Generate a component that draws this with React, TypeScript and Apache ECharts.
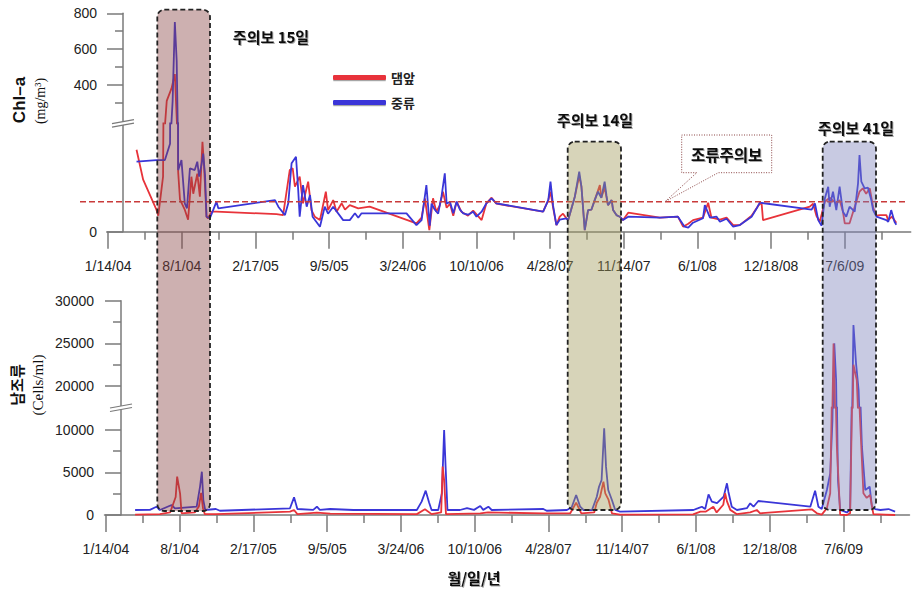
import React, { useEffect, useRef } from 'react';
import * as echarts from 'echarts';

// ---------------- DATA ----------------
const seriesNames = ['댐앞', '중류'];

// Chl-a (mg/m3), 댐앞
const chlDam: [string, number][] = [
  ['2004-03-31', 41], ['2004-04-18', 26], ['2004-05-24', 11], ['2004-05-29', 8], ['2004-06-11', 27.5],
  ['2004-06-21', 310], ['2004-07-04', 380], ['2004-07-13', 460], ['2004-07-22', 30], ['2004-07-27', 16],
  ['2004-08-09', 11], ['2004-08-18', 6], ['2004-08-27', 27.5], ['2004-09-01', 19], ['2004-09-12', 29],
  ['2004-09-19', 17.5], ['2004-09-26', 45], ['2004-09-30', 34], ['2004-10-07', 7.5], ['2004-10-11', 6.7],
  ['2004-10-21', 10], ['2004-11-03', 10], ['2005-04-15', 8.8], ['2005-05-03', 8.3], ['2005-05-21', 30.8],
  ['2005-05-29', 31.7], ['2005-06-04', 22.5], ['2005-06-17', 27.5], ['2005-06-26', 14.2], ['2005-07-10', 25],
  ['2005-07-19', 10.8], ['2005-07-28', 7.5], ['2005-08-11', 5.8], ['2005-08-27', 20], ['2005-09-02', 10.8],
  ['2005-09-16', 15.8], ['2005-09-25', 10], ['2005-10-09', 14.2], ['2005-10-18', 11], ['2005-10-31', 13.3],
  ['2005-11-23', 11.7], ['2005-12-24', 12.5], ['2006-04-30', 4.2], ['2006-05-14', 7], ['2006-05-23', 16.7],
  ['2006-06-04', 0.8], ['2006-06-14', 16.7], ['2006-06-23', 10], ['2006-07-02', 13], ['2006-07-11', 20],
  ['2006-07-21', 12], ['2006-07-30', 14], ['2006-08-08', 8], ['2006-08-17', 15], ['2006-08-30', 10],
  ['2006-09-17', 8], ['2006-10-01', 10.5], ['2006-10-24', 5.8], ['2006-11-06', 14.2], ['2006-11-20', 17],
  ['2006-12-03', 14], ['2007-04-09', 10], ['2007-04-23', 15.8], ['2007-04-29', 20], ['2007-05-06', 12],
  ['2007-05-15', 3.3], ['2007-05-24', 7.5], ['2007-06-02', 9], ['2007-06-11', 6.7], ['2007-06-16', 5.8],
  ['2007-07-04', 17.5], ['2007-07-16', 28], ['2007-07-22', 22.5], ['2007-07-31', 0.8], ['2007-08-09', 10.8],
  ['2007-08-18', 11], ['2007-08-27', 15.8], ['2007-09-10', 23.3], ['2007-09-14', 17], ['2007-09-23', 22],
  ['2007-10-02', 13.3], ['2007-10-12', 15.8], ['2007-10-16', 10.8], ['2007-10-25', 8.3], ['2007-11-03', 7.5],
  ['2007-11-12', 5.8], ['2007-11-26', 9.5], ['2008-02-20', 7], ['2008-04-09', 7.5], ['2008-04-23', 2.5],
  ['2008-05-07', 4], ['2008-05-20', 5.8], ['2008-06-16', 7], ['2008-06-30', 14.5], ['2008-07-09', 7],
  ['2008-08-01', 6], ['2008-08-19', 7], ['2008-09-06', 3.3], ['2008-09-24', 3.3], ['2008-10-26', 8],
  ['2008-11-13', 13], ['2008-11-22', 14.5], ['2008-11-26', 5.8], ['2009-04-02', 12.5], ['2009-04-11', 14],
  ['2009-04-20', 8], ['2009-04-29', 5], ['2009-05-13', 15], ['2009-05-26', 17], ['2009-06-13', 14],
  ['2009-06-22', 15.8], ['2009-07-01', 10], ['2009-07-06', 4.2], ['2009-07-19', 4.2], ['2009-08-02', 12.5],
  ['2009-08-15', 20], ['2009-08-24', 21.7], ['2009-09-02', 19], ['2009-09-12', 21.7], ['2009-09-21', 12],
  ['2009-09-30', 8], ['2009-10-09', 8.3], ['2009-10-27', 8.3], ['2009-11-01', 5.8], ['2009-11-11', 7.5],
  ['2009-11-23', 4.5],
];

// Chl-a (mg/m3), 중류
const chlMid: [string, number][] = [
  ['2004-03-31', 35], ['2004-05-24', 35.8], ['2004-06-16', 35.8], ['2004-06-30', 44], ['2004-07-07', 310],
  ['2004-07-13', 751], ['2004-07-18', 535], ['2004-07-22', 30.8], ['2004-07-31', 35.8], ['2004-08-09', 14.2],
  ['2004-08-15', 11.7], ['2004-08-23', 31.7], ['2004-09-05', 30.8], ['2004-09-12', 35], ['2004-09-17', 27.5],
  ['2004-09-24', 34.2], ['2004-09-28', 39], ['2004-10-03', 28.3], ['2004-10-07', 7.5], ['2004-10-16', 6.7],
  ['2004-10-25', 10.8], ['2004-11-03', 15], ['2004-11-08', 11.7], ['2005-04-11', 15.8], ['2005-04-20', 12.5],
  ['2005-05-08', 8.3], ['2005-05-17', 14.2], ['2005-05-26', 34.2], ['2005-06-07', 37.5], ['2005-06-13', 20.8],
  ['2005-06-17', 7.5], ['2005-06-26', 23.3], ['2005-07-06', 12.5], ['2005-07-15', 18.3], ['2005-07-22', 7.5],
  ['2005-08-11', 2.5], ['2005-08-24', 12.5], ['2005-09-02', 9], ['2005-09-16', 12.5], ['2005-10-13', 5.8],
  ['2005-10-31', 5.8], ['2005-11-14', 9.2], ['2005-11-23', 7], ['2005-12-02', 9.2], ['2006-04-03', 9.2],
  ['2006-04-30', 3.3], ['2006-05-14', 5.8], ['2006-05-27', 23.3], ['2006-06-05', 3], ['2006-06-10', 14],
  ['2006-06-19', 11], ['2006-06-28', 9], ['2006-07-07', 17.5], ['2006-07-16', 29.2], ['2006-07-21', 14],
  ['2006-07-30', 15], ['2006-08-08', 9.2], ['2006-08-17', 15], ['2006-08-26', 11], ['2006-09-04', 9.2],
  ['2006-09-17', 8.5], ['2006-10-01', 10], ['2006-10-10', 7.5], ['2006-10-24', 10], ['2006-11-06', 14.2],
  ['2006-11-20', 16.7], ['2006-12-03', 14.2], ['2007-04-09', 10], ['2007-04-23', 15.8], ['2007-04-29', 25],
  ['2007-05-06', 13], ['2007-05-15', 3.3], ['2007-05-24', 6], ['2007-06-11', 6.7], ['2007-06-16', 5.8],
  ['2007-07-04', 17.5], ['2007-07-16', 30], ['2007-07-22', 22.5], ['2007-07-31', 0.8], ['2007-08-09', 10.8],
  ['2007-08-18', 11], ['2007-08-27', 15.8], ['2007-09-05', 20], ['2007-09-14', 17], ['2007-09-23', 25],
  ['2007-09-28', 18], ['2007-10-02', 13.3], ['2007-10-12', 15.8], ['2007-10-16', 10.8], ['2007-10-25', 8.3],
  ['2007-11-03', 7.5], ['2007-11-12', 5.8], ['2007-11-26', 7.5], ['2008-02-20', 7], ['2008-04-09', 7.5],
  ['2008-04-18', 5], ['2008-04-27', 2.5], ['2008-05-07', 2], ['2008-05-20', 4.5], ['2008-06-16', 6.7],
  ['2008-06-21', 13.3], ['2008-07-05', 7], ['2008-07-23', 7.5], ['2008-08-01', 5], ['2008-08-19', 6.5],
  ['2008-09-06', 2.5], ['2008-09-24', 3.3], ['2008-10-26', 7.5], ['2008-11-09', 11.7], ['2008-11-17', 14.5],
  ['2009-04-07', 11], ['2009-04-16', 14.2], ['2009-04-25', 5.8], ['2009-05-04', 3], ['2009-05-13', 16.7],
  ['2009-05-22', 22.5], ['2009-05-26', 12.5], ['2009-06-04', 20], ['2009-06-13', 10.8], ['2009-06-22', 22.5],
  ['2009-07-01', 10], ['2009-07-10', 7.5], ['2009-07-19', 12.5], ['2009-08-02', 10], ['2009-08-11', 24.2],
  ['2009-08-15', 38.3], ['2009-08-20', 25], ['2009-08-29', 21.7], ['2009-09-07', 22], ['2009-09-16', 15.8],
  ['2009-09-21', 10.8], ['2009-09-30', 7.5], ['2009-10-27', 5.8], ['2009-11-01', 5], ['2009-11-09', 10.8],
  ['2009-11-18', 5], ['2009-11-23', 3.5],
];

// 남조류 (cells/ml), 댐앞
const cyanoDam: [string, number][] = [
  ['2004-04-02', 50], ['2004-06-08', 100], ['2004-07-06', 300], ['2004-07-21', 2100], ['2004-07-25', 4490],
  ['2004-08-02', 2500], ['2004-08-06', 200], ['2004-09-11', 300], ['2004-09-22', 1000], ['2004-09-28', 2600],
  ['2004-10-03', 800], ['2004-10-08', 100], ['2004-11-07', 100], ['2005-05-27', 390], ['2005-06-07', 585],
  ['2005-06-16', 100], ['2005-08-08', 270], ['2005-09-13', 150], ['2006-05-06', 100], ['2006-05-28', 670],
  ['2006-06-15', 100], ['2006-07-11', 300], ['2006-07-15', 5660], ['2006-07-19', 4100], ['2006-07-24', 100],
  ['2006-10-25', 200], ['2006-11-15', 300], ['2007-04-14', 200], ['2007-06-26', 200], ['2007-07-12', 1440],
  ['2007-07-26', 200], ['2007-08-30', 300], ['2007-09-06', 1440], ['2007-09-15', 2140], ['2007-09-24', 3900],
  ['2007-09-29', 2540], ['2007-10-08', 1760], ['2007-10-17', 200], ['2007-11-08', 50], ['2008-05-24', 80],
  ['2008-06-13', 390], ['2008-06-28', 400], ['2008-07-18', 970], ['2008-07-27', 300], ['2008-08-14', 1200],
  ['2008-08-19', 2540], ['2008-08-24', 1600], ['2008-09-02', 600], ['2008-09-20', 100], ['2008-10-26', 300],
  ['2008-11-13', 585], ['2008-11-22', 200], ['2009-04-11', 670], ['2009-04-25', 200], ['2009-05-08', 50],
  ['2009-05-22', 800], ['2009-05-31', 2540], ['2009-06-09', 25000], ['2009-06-18', 8000], ['2009-06-27', 50],
  ['2009-07-15', 0], ['2009-07-24', 200], ['2009-08-02', 22500], ['2009-08-11', 20700], ['2009-08-20', 11100],
  ['2009-08-29', 2540], ['2009-09-07', 2000], ['2009-09-16', 2340], ['2009-09-25', 100], ['2009-10-27', 50],
  ['2009-11-23', 0],
];

// 남조류 (cells/ml), 중류
const cyanoMid: [string, number][] = [
  ['2004-04-02', 585], ['2004-05-12', 600], ['2004-05-30', 970], ['2004-06-08', 585], ['2004-07-10', 1170],
  ['2004-07-19', 785], ['2004-09-16', 970], ['2004-09-25', 3300], ['2004-09-30', 5070], ['2004-10-04', 1750],
  ['2004-10-09', 585], ['2004-11-07', 700], ['2004-11-18', 500], ['2005-05-27', 785], ['2005-06-07', 2070],
  ['2005-06-16', 700], ['2005-07-29', 600], ['2005-08-08', 970], ['2005-08-16', 600], ['2005-09-13', 700],
  ['2005-11-15', 585], ['2006-05-06', 585], ['2006-05-19', 1560], ['2006-05-30', 2850], ['2006-06-08', 1500],
  ['2006-06-15', 585], ['2006-07-03', 585], ['2006-07-13', 2540], ['2006-07-19', 9950], ['2006-07-23', 5660],
  ['2006-07-28', 585], ['2006-08-31', 585], ['2006-09-19', 800], ['2006-10-08', 600], ['2006-10-25', 1050],
  ['2006-11-02', 600], ['2006-11-16', 970], ['2006-11-25', 585], ['2007-04-14', 700], ['2007-04-23', 500],
  ['2007-06-17', 585], ['2007-06-30', 900], ['2007-07-12', 2340], ['2007-07-23', 970], ['2007-08-01', 585],
  ['2007-08-24', 585], ['2007-09-06', 2140], ['2007-09-12', 3310], ['2007-09-19', 4100], ['2007-09-26', 10150],
  ['2007-10-01', 5660], ['2007-10-07', 2930], ['2007-10-17', 1760], ['2007-10-26', 585], ['2007-11-08', 400],
  ['2008-05-25', 585], ['2008-06-07', 800], ['2008-06-17', 970], ['2008-06-26', 700], ['2008-07-05', 2420],
  ['2008-07-14', 1560], ['2008-07-28', 1400], ['2008-08-15', 2140], ['2008-08-24', 3710], ['2008-08-28', 2700],
  ['2008-09-06', 970], ['2008-09-20', 585], ['2008-10-17', 800], ['2008-10-26', 1370], ['2008-11-04', 970],
  ['2008-11-17', 1640], ['2009-04-07', 970], ['2009-04-20', 2850], ['2009-04-29', 970], ['2009-05-08', 700],
  ['2009-05-22', 2930], ['2009-05-31', 4880], ['2009-06-06', 11000], ['2009-06-11', 25000], ['2009-06-16', 20700],
  ['2009-06-21', 4100], ['2009-06-27', 585], ['2009-07-15', 300], ['2009-07-24', 585], ['2009-08-02', 27150],
  ['2009-08-09', 22670], ['2009-08-16', 19540], ['2009-08-25', 8000], ['2009-09-03', 2930], ['2009-09-15', 3310],
  ['2009-09-21', 970], ['2009-09-30', 700], ['2009-10-14', 585], ['2009-11-05', 700], ['2009-11-23', 400],
];

const xTickLabels = ['1/14/04', '8/1/04', '2/17/05', '9/5/05', '3/24/06', '10/10/06', '4/28/07', '11/14/07', '6/1/08', '12/18/08', '7/6/09'];
const xRange = ['2004-01-10', '2010-01-01'];
const chlUpperRange = [185, 800];
const chlLowerRange = [0, 54.2];
const chlUpperTicks = [400, 600, 800];
const chlUpperMinor = [300, 500, 700];
const chlLowerTicks = [0];
const cyanoUpperRange = [17470, 30000];
const cyanoLowerRange = [0, 12560];
const cyanoUpperTicks = [20000, 25000, 30000];
const cyanoUpperMinor = [22500, 27500];
const cyanoLowerTicks = [0, 5000, 10000];
const cyanoLowerMinor = [2500, 7500];
const chlAdvisory = 15;
const advisoryNotes = ['주의보 15일', '주의보 14일', '주의보 41일'];
const calloutText = '조류주의보';

// ---------------- STYLE ----------------
const SANS = '"Liberation Sans", Arial, Helvetica, sans-serif';
const KR = '"Noto Sans CJK KR", "Noto Sans", sans-serif';
const SERIF = '"Liberation Serif", "Times New Roman", serif';
const RED = '#e8333a';
const BLUE = '#3a36d8';
const AXIS = '#7a7a7a';

const isoToTime = (s: string) => {
  const [y, m, d] = s.split('-').map(Number);
  return new Date(y, m - 1, d).getTime();
};
const mdyToTime = (s: string, addDays = 0) => {
  const [m, d, y] = s.split('/').map(Number);
  return new Date(2000 + y, m - 1, d + addDays).getTime();
};
const majorX = xTickLabels.map((s) => mdyToTime(s));
const minorX = xTickLabels.map((s) => mdyToTime(s, 100));
const X_MIN = isoToTime(xRange[0]);
const X_MAX = isoToTime(xRange[1]);
const fmtDate = (v: number) => {
  const d = new Date(v);
  return `${d.getMonth() + 1}/${d.getDate()}/${String(d.getFullYear()).slice(2)}`;
};
const toXY = (data: [string, number][]) => data.map(([d, v]) => [isoToTime(d), v]);

const grids = [
  { left: 106.7, top: 13.3, width: 804, height: 110, outerBoundsMode: 'none' },
  { left: 106.7, top: 123.3, width: 804, height: 108.4, outerBoundsMode: 'none' },
  { left: 104.5, top: 300.7, width: 805, height: 107, outerBoundsMode: 'none' },
  { left: 104.5, top: 407.7, width: 805, height: 107.3, outerBoundsMode: 'none' },
];

const mkX = (gridIndex: number, kind: 'hidden' | 'main' | 'minor') => ({
  type: 'value',
  gridIndex,
  min: X_MIN,
  max: X_MAX,
  position: 'bottom',
  show: kind !== 'hidden',
  axisLine: { show: kind === 'main', onZero: false, lineStyle: { color: AXIS, width: 1.5 } },
  axisTick: {
    show: kind !== 'hidden',
    customValues: kind === 'minor' ? minorX : majorX,
    length: kind === 'minor' ? 8 : 17,
    lineStyle: { color: AXIS, width: 1.5 },
  },
  axisLabel: {
    show: kind === 'main',
    customValues: majorX,
    formatter: (v: number) => fmtDate(v),
    margin: 27,
    fontSize: 14,
    color: '#222',
    fontFamily: SANS,
  },
  splitLine: { show: false },
});

const mkY = (gridIndex: number, range: number[], ticks: number[], minor: boolean, offset: number, margin: number) => ({
  type: 'value',
  gridIndex,
  min: range[0],
  max: range[1],
  position: 'left',
  offset,
  axisLine: { show: !minor, onZero: false, lineStyle: { color: AXIS, width: 1.5 } },
  axisTick: { show: true, customValues: ticks, length: minor ? 8 : 16, lineStyle: { color: AXIS, width: 1.5 } },
  axisLabel: {
    show: !minor,
    customValues: ticks,
    formatter: (v: number) => String(v),
    margin,
    fontSize: 14,
    color: '#222',
    fontFamily: SANS,
  },
  splitLine: { show: false },
});

const mkLine = (name: string, data: [string, number][], color: string, xi: number, yi: number, z: number) => ({
  type: 'line',
  name,
  data: toXY(data),
  xAxisIndex: xi,
  yAxisIndex: yi,
  color,
  symbol: 'none',
  showSymbol: false,
  clip: true,
  z,
  lineStyle: { color, width: 1.8 },
  itemStyle: { color },
});

const option: any = {
  animation: false,
  backgroundColor: '#fff',
  textStyle: { fontFamily: SANS },
  grid: grids,
  xAxis: [mkX(0, 'hidden'), mkX(1, 'main'), mkX(1, 'minor'), mkX(2, 'hidden'), mkX(3, 'main'), mkX(3, 'minor')],
  yAxis: [
    mkY(0, chlUpperRange, chlUpperTicks, false, -16.3, 26),
    mkY(0, chlUpperRange, chlUpperMinor, true, -16.3, 26),
    mkY(1, chlLowerRange, chlLowerTicks, false, -16.3, 26),
    mkY(2, cyanoUpperRange, cyanoUpperTicks, false, -16.5, 27),
    mkY(2, cyanoUpperRange, cyanoUpperMinor, true, -16.5, 27),
    mkY(3, cyanoLowerRange, cyanoLowerTicks, false, -16.5, 27),
    mkY(3, cyanoLowerRange, cyanoLowerMinor, true, -16.5, 27),
  ],
  legend: {
    data: seriesNames,
    orient: 'vertical',
    left: 328,
    top: 66,
    itemWidth: 53,
    itemHeight: 5,
    itemGap: 12,
    icon: 'roundRect',
    selectedMode: false,
    itemStyle: { shadowColor: 'rgba(0,0,0,0.35)', shadowOffsetY: 1.2, shadowBlur: 1 },
    textStyle: { fontSize: 13, fontWeight: 'bold', color: '#222', fontFamily: KR },
  },
  series: [
    mkLine(seriesNames[0], chlDam, RED, 0, 0, 3),
    mkLine(seriesNames[0], chlDam, RED, 1, 2, 3),
    mkLine(seriesNames[1], chlMid, BLUE, 0, 0, 4),
    mkLine(seriesNames[1], chlMid, BLUE, 1, 2, 4),
    mkLine(seriesNames[1], cyanoMid, BLUE, 3, 3, 3),
    mkLine(seriesNames[1], cyanoMid, BLUE, 4, 5, 3),
    mkLine(seriesNames[0], cyanoDam, RED, 3, 3, 4),
    mkLine(seriesNames[0], cyanoDam, RED, 4, 5, 4),
  ],
};

const shadowText = { textShadowColor: 'rgba(0,0,0,0.35)', textShadowBlur: 1, textShadowOffsetX: 1, textShadowOffsetY: 1 };

function buildGraphics(yT: number) {
  const els: any[] = [];
  const brk = (id: string, x1: number, x2: number, y: number) => {
    els.push({ id: id + 'w', type: 'polygon', z: 20, shape: { points: [[x1, y + 1.8], [x2, y - 2.2], [x2, y + 1.3], [x1, y + 5.3]] }, style: { fill: '#fff' } });
    els.push({ id: id + 'a', type: 'line', z: 21, shape: { x1, y1: y + 1.8, x2, y2: y - 2.2 }, style: { stroke: AXIS, lineWidth: 1.2 } });
    els.push({ id: id + 'b', type: 'line', z: 21, shape: { x1, y1: y + 5.3, x2, y2: y + 1.3 }, style: { stroke: AXIS, lineWidth: 1.2 } });
  };
  brk('brk1', 112, 134, 121.8);
  brk('brk2', 110, 132, 406.2);

  els.push({ id: 'thr', type: 'line', z: 50, shape: { x1: 80, y1: yT, x2: 905, y2: yT }, style: { stroke: '#c93a3a', lineWidth: 1.6, lineDash: [6, 3] } });

  els.push({
    id: 'callout', type: 'polygon', z: 60,
    shape: { points: [[696.7, 172.7], [681.7, 172.7], [681.7, 135], [771.7, 135], [771.7, 172.7], [718.3, 172.7], [665, yT]] },
    style: { fill: '#fff', stroke: '#8b4545', lineWidth: 1, lineDash: [1, 1.5] },
  });
  els.push({ id: 'calloutT', type: 'text', z: 61, x: 726.7, y: 153.5, style: { text: calloutText, fontSize: 15.5, fontWeight: 'bold', fontFamily: KR, fill: '#111', align: 'center', verticalAlign: 'middle', ...shadowText } });

  const rects = [
    { x: 157.3, y: 9.7, w: 52.7, h: 501.3, fill: 'rgba(135,66,66,0.42)' },
    { x: 567.7, y: 141.7, w: 53.3, h: 368.3, fill: 'rgba(159,153,88,0.42)' },
    { x: 822.7, y: 141.7, w: 53.3, h: 368.3, fill: 'rgba(124,128,186,0.42)' },
  ];
  rects.forEach((r, i) => {
    els.push({ id: 'rect' + i, type: 'rect', z: 100, shape: { x: r.x, y: r.y, width: r.w, height: r.h, r: 7 }, style: { fill: r.fill, stroke: '#222', lineWidth: 1.8, lineDash: [5, 3] } });
  });

  const notePos = [[271, 36], [595, 119], [856, 127]];
  advisoryNotes.forEach((t, i) => {
    els.push({ id: 'note' + i, type: 'text', z: 110, x: notePos[i][0], y: notePos[i][1], style: { text: t, fontSize: 15, fontWeight: 'bold', fontFamily: KR, fill: '#111', align: 'center', verticalAlign: 'middle', ...shadowText } });
  });

  const rot = Math.PI / 2;
  els.push({ id: 't1', type: 'text', z: 110, x: 19, y: 100, rotation: rot, style: { text: 'Chl–a', fontSize: 17, fontWeight: 'bold', fontFamily: SANS, fill: '#111', align: 'center', verticalAlign: 'middle' } });
  els.push({ id: 't2', type: 'text', z: 110, x: 40, y: 101, rotation: rot, style: { text: '(mg/m³)', fontSize: 14, fontFamily: SERIF, fill: '#111', align: 'center', verticalAlign: 'middle' } });
  els.push({ id: 't3', type: 'text', z: 110, x: 16, y: 385, rotation: rot, style: { text: '남조류', fontSize: 15, fontWeight: 'bold', fontFamily: KR, fill: '#111', align: 'center', verticalAlign: 'middle' } });
  els.push({ id: 't4', type: 'text', z: 110, x: 38, y: 385, rotation: rot, style: { text: '(Cells/ml)', fontSize: 15, fontFamily: SERIF, fill: '#111', align: 'center', verticalAlign: 'middle' } });
  els.push({ id: 't5', type: 'text', z: 110, x: 474, y: 577, style: { text: '월/일/년', fontSize: 15, fontWeight: 'bold', fontFamily: KR, fill: '#111', align: 'center', verticalAlign: 'middle', ...shadowText } });
  return els;
}

export default function App() {
  const ref = useRef<HTMLDivElement>(null);
  useEffect(() => {
    if (!ref.current) return;
    const chart = echarts.init(ref.current, null, { renderer: 'svg', width: 919, height: 596 });
    chart.setOption(option);
    const yT = chart.convertToPixel({ yAxisIndex: 2 } as any, chlAdvisory) as unknown as number;
    chart.setOption({ graphic: { elements: buildGraphics(typeof yT === 'number' && isFinite(yT) ? yT : 201.7) } });
    return () => chart.dispose();
  }, []);
  return <div ref={ref} style={{ position: 'fixed', left: 0, top: 0, width: 919, height: 596, background: '#fff' }} />;
}
